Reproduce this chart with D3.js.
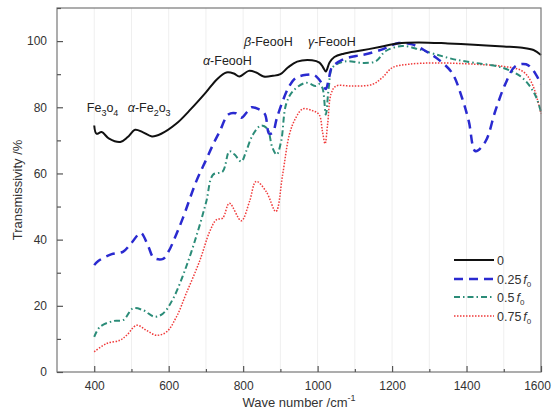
<!DOCTYPE html>
<html><head><meta charset="utf-8">
<script src="https://cdn.jsdelivr.net/npm/d3@7"></script>
<style>body{margin:0;background:#fff}svg{display:block}text{font-family:"Liberation Sans",Arial,sans-serif}</style>
</head><body><svg id="c" width="555" height="412"></svg>
<script>
const seriesNames = ["0","0.25","0.5","0.75"];
const waveBlack = [400,406,420,440,470,490,510,530,555,580,620,660,700,730,755,775,790,815,835,855,880,900,920,945,985,1005,1015,1022,1032,1045,1070,1120,1170,1215,1270,1350,1420,1500,1550,1580,1600];
const tBlack    = [74.5,72,72.5,70.5,69.5,71,73.2,72.5,71.2,72,75,79.5,84.5,88.5,90.5,90.2,89.3,91,90.5,89.3,89.5,90,92,93.8,94.2,93.5,92,90.8,93.5,95.2,96.2,97.2,98.3,99.3,99.6,99.3,98.9,98.4,98,97.3,95.8];
const waveBlue = [400,410,447,478,500,525,545,560,585,600,616,638,674,700,719,737,760,780,795,810,822,840,858,870,880,890,906,924,942,970,990,1004,1015,1022,1030,1038,1067,1103,1129,1174,1218,1254,1290,1325,1361,1388,1406,1424,1451,1477,1504,1531,1560,1580,1600];
const tBlue    = [32.3,33.5,35.6,36.4,39,42,38,34.5,34.2,36.5,40.4,46.5,57.6,64,68.7,72.7,77.8,78.2,76.8,78.5,80,79.5,78,72,72.5,76.5,81.8,86.4,88.9,89.8,89.8,88.4,86.5,85.5,88.5,92,94.4,95.5,96,97.5,99.4,99,97,94.4,90.4,82.8,75.8,66.7,69.7,78.8,87,92.4,93,91,87];
const waveGreen = [400,415,451,478,504,531,562,585,612,647,678,701,719,745,763,777,795,808,826,848,865,878,890,902,915,933,969,995,1004,1013,1022,1030,1040,1076,1120,1156,1183,1227,1272,1317,1370,1424,1495,1549,1584,1600];
const tGreen    = [10.6,13.6,15.4,15.7,19.2,18.7,16.7,17.7,22.2,31.8,42.4,51.5,59.6,60.6,66.7,65.7,63.6,66.7,71.7,74.5,73.5,68,65.7,69.7,80.8,84.8,87.4,86.4,87,85.8,77.8,86,92,93.9,93.4,93.9,97,98.5,97.5,96,94.4,93.4,92,89,83.8,78.5];
const waveRed = [400,433,469,487,514,540,567,594,621,647,683,710,728,745,763,795,817,835,862,888,906,924,940,960,986,1004,1013,1020,1027,1036,1049,1093,1147,1174,1201,1245,1317,1424,1495,1549,1575,1600];
const tRed    = [6.1,8.6,9.6,11.1,14.1,12.6,11.1,12.1,16.7,23.7,33.5,42.4,46,46.5,51,45.7,51.5,57.6,54.5,48.5,59.6,71.7,76.5,79.5,79,77.8,72.7,69,75,84,86.4,86.4,86.9,89,92,93,93.4,93,92.4,91,87.4,78];
const xTicks = [400,600,800,1000,1200,1400,1600];
const yTicks = [0,20,40,60,80,100];

const svg = d3.select("#c");
const L=57,R=541,T=8,B=372;
const x = d3.scaleLinear().domain([300,1600]).range([L,R]);
const y = d3.scaleLinear().domain([0,110]).range([B,T]);

// faint grid
svg.append("g").selectAll("line").data(d3.range(400,1600,100)).join("line")
  .attr("x1",d=>x(d)).attr("x2",d=>x(d)).attr("y1",T).attr("y2",B)
  .attr("stroke","#efefef").attr("stroke-width",1);

const series = [
  {name:"0", w:waveBlack, t:tBlack, color:"#111", width:2, dash:null},
  {name:"0.25", w:waveBlue, t:tBlue, color:"#2a2ad0", width:2.5, dash:"9,6"},
  {name:"0.5", w:waveGreen, t:tGreen, color:"#2b8c78", width:2, dash:"6,3,1.5,3"},
  {name:"0.75", w:waveRed, t:tRed, color:"#f03a3a", width:1.5, dash:"1.5,1.5"}
];
const line = d3.line().x(d=>x(d[0])).y(d=>y(d[1])).curve(d3.curveCatmullRom.alpha(0.5));
const g = svg.append("g");
series.slice().reverse().forEach(s=>{
  g.append("path").datum(s.w.map((v,i)=>[v,s.t[i]]))
   .attr("d",line).attr("fill","none").attr("stroke",s.color)
   .attr("stroke-width",s.width).attr("stroke-dasharray",s.dash);
});

// frame
svg.append("rect").attr("x",L).attr("y",T).attr("width",R-L).attr("height",B-T)
  .attr("fill","none").attr("stroke","#777").attr("stroke-width",1.2);

// axes
const fmt = d3.format("d");
const xAx = svg.append("g").attr("transform",`translate(0,${B})`)
  .call(d3.axisBottom(x).tickValues(xTicks).tickFormat(fmt).tickSizeInner(-6).tickSizeOuter(0).tickPadding(9));
const xMin = svg.append("g").attr("transform",`translate(0,${B})`)
  .call(d3.axisBottom(x).tickValues(d3.range(500,1600,200)).tickSizeInner(-3).tickSizeOuter(0).tickFormat(""));
const yAx = svg.append("g").attr("transform",`translate(${L},0)`)
  .call(d3.axisLeft(y).tickValues(yTicks).tickFormat(fmt).tickSizeInner(-6).tickSizeOuter(0).tickPadding(10));
const yMin = svg.append("g").attr("transform",`translate(${L},0)`)
  .call(d3.axisLeft(y).tickValues(d3.range(10,111,20)).tickSizeInner(-4).tickSizeOuter(0).tickFormat(""));
[xAx,xMin,yAx,yMin].forEach(a=>{
  a.select(".domain").remove();
  a.selectAll("line").attr("stroke","#555").attr("stroke-width",1.2);
  a.selectAll("text").attr("fill","#333").style("font-size","12px");
});
xAx.selectAll(".tick").filter(d=>d===1600).select("text").attr("dx",-4);

// axis titles
const xt = svg.append("text").attr("x",x(950)).attr("y",407).attr("text-anchor","middle")
  .attr("fill","#333").style("font-size","13px");
xt.append("tspan").text("Wave number /cm");
xt.append("tspan").attr("dy",-6).style("font-size","9px").text("-1");
svg.append("text").attr("transform",`translate(22,${y(55)}) rotate(-90)`).attr("text-anchor","middle")
  .attr("fill","#333").style("font-size","13px").text("Transmissivity /%");

// annotations
function chem(px,py,parts){
  const t = svg.append("text").attr("x",x(px)).attr("y",y(py)).attr("fill","#222").style("font-size","12.5px");
  parts.forEach(p=>{
    const ts = t.append("tspan").text(p.s);
    if(p.it) ts.style("font-style","italic");
    if(p.sub){ ts.attr("dy",4).style("font-size","9px"); }
    if(p.up){ ts.attr("dy",-4); }
  });
}
chem(380,78.6,[{s:"Fe"},{s:"3",sub:1},{s:"o",up:1},{s:"4",sub:1}]);
chem(490,78.6,[{s:"α",it:1},{s:"-Fe"},{s:"2",sub:1},{s:"o",up:1},{s:"3",sub:1}]);
chem(692,92.8,[{s:"α",it:1},{s:"-FeooH"}]);
chem(802,98.6,[{s:"β",it:1},{s:"-FeooH"}]);
chem(974,98.6,[{s:"γ",it:1},{s:"-FeooH"}]);

// legend
const lg = svg.append("g");
const ly = [260,279,297,316];
series.forEach((s,i)=>{
  lg.append("line").attr("x1",454).attr("x2",494).attr("y1",ly[i]).attr("y2",ly[i])
    .attr("stroke",s.color).attr("stroke-width",s.width).attr("stroke-dasharray",s.dash);
  const t = lg.append("text").attr("x",497).attr("y",ly[i]+4.5).attr("fill","#333").style("font-size","12.5px");
  t.append("tspan").text(s.name);
  if(i>0){
    t.append("tspan").attr("dx",2).style("font-style","italic").text("f");
    t.append("tspan").attr("dy",3).style("font-size","8px").text("0");
  }
});
</script></body></html>
